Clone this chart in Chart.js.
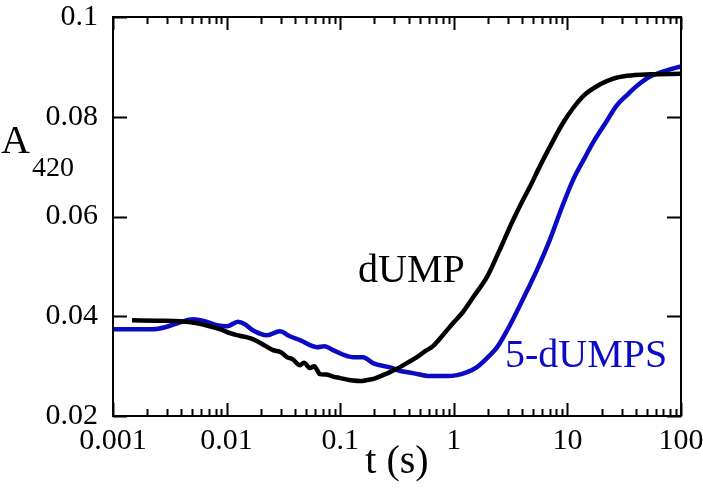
<!DOCTYPE html>
<html>
<head>
<meta charset="utf-8">
<script src="https://cdn.jsdelivr.net/npm/chart.js@4/dist/chart.umd.min.js"></script>
<style>
  html, body { margin: 0; padding: 0; background: #fff; }
  #wrap { width: 703px; height: 490px; }
</style>
</head>
<body>
<div id="wrap"><canvas id="myChart"></canvas></div>
<script>
// time axis (s) and absorbance at 420 nm
var tDump = [0.00147, 0.0025, 0.0039, 0.0055, 0.0071, 0.009, 0.0107, 0.013, 0.0161, 0.02,
    0.0256, 0.03, 0.034, 0.038, 0.0443, 0.048, 0.0542, 0.059, 0.0664, 0.075,
    0.0865, 0.1, 0.115, 0.13, 0.15, 0.172, 0.2, 0.238, 0.28, 0.336,
    0.4, 0.474, 0.56, 0.656, 0.8, 1.0, 1.2, 1.5, 1.96, 2.5,
    3.25, 4.0, 4.69, 5.7, 7.03, 9.0, 11.2, 14, 19.4, 25,
    33.5, 53.3, 100];
var aDump = [0.0392, 0.0391, 0.0390, 0.0386, 0.0380, 0.0373, 0.0366, 0.0361, 0.0356, 0.0346,
    0.0332, 0.0328, 0.0318, 0.0314, 0.0302, 0.0307, 0.0296, 0.0300, 0.0284, 0.0283,
    0.0279, 0.0276, 0.0273, 0.0271, 0.0270, 0.0272, 0.0275, 0.0282, 0.0289, 0.0298,
    0.0308, 0.0318, 0.0330, 0.0340, 0.0362, 0.0388, 0.0408, 0.0440, 0.0479, 0.0530,
    0.0588, 0.0630, 0.0660, 0.0700, 0.0740, 0.0785, 0.0817, 0.0843, 0.0865, 0.0876,
    0.0882, 0.0885, 0.0886];

var tDumps = [0.001, 0.00225, 0.00287, 0.0039, 0.00506, 0.0064, 0.00822, 0.0101, 0.0126, 0.0145,
    0.017, 0.0227, 0.0294, 0.036, 0.0443, 0.0624, 0.073, 0.0865, 0.13, 0.159,
    0.194, 0.29, 0.316, 0.437, 0.617, 0.871, 1.07, 1.31, 1.6, 2.0,
    2.41, 3.0, 3.6, 4.5, 5.5, 7.0, 9.0, 11.2, 14, 17,
    22, 27, 34, 41, 53, 75, 100];
var aDumps = [0.0374, 0.0374, 0.0378, 0.0388, 0.0394, 0.0390, 0.0382, 0.0380, 0.0389, 0.0384,
    0.0372, 0.0362, 0.0370, 0.0360, 0.0352, 0.0338, 0.0340, 0.0332, 0.0318, 0.0318,
    0.0306, 0.0296, 0.0292, 0.0286, 0.0280, 0.0280, 0.0282, 0.0288, 0.0298, 0.0318,
    0.0338, 0.0375, 0.0410, 0.0455, 0.0497, 0.0553, 0.0620, 0.0673, 0.0715, 0.0750,
    0.0790, 0.0822, 0.0845, 0.0862, 0.0880, 0.0893, 0.0901];

var xTicks = [0.001, 0.01, 0.1, 1, 10, 100];
var yTicks = [0.02, 0.04, 0.06, 0.08, 0.1];

var serif = "'Liberation Serif', 'Times New Roman', serif";
var blue = '#0b0bc4';

function pts(xs, ys) {
    return xs.map(function (v, i) { return { x: v, y: ys[i] }; });
}

// box, inward ticks and the text labels
var frame = {
    id: 'frame',
    afterDraw: function (chart) {
        var c = chart.ctx, a = chart.chartArea;
        var sx = chart.scales.x, sy = chart.scales.y;
        c.save();
        c.strokeStyle = '#000';
        c.lineWidth = 2;
        c.strokeRect(a.left, a.top, a.right - a.left, a.bottom - a.top);
        c.beginPath();
        for (var d = 0; d < xTicks.length; d++) {
            for (var k = 1; k <= 9; k++) {
                var v = xTicks[d] * k;
                if (v > 100.0001) break;
                var px = Math.round(sx.getPixelForValue(v)) + 0.5;
                var len = k === 1 ? 13 : 7;
                c.moveTo(px, a.bottom); c.lineTo(px, a.bottom - len);
                c.moveTo(px, a.top); c.lineTo(px, a.top + len);
            }
        }
        yTicks.forEach(function (v) {
            var py = Math.round(sy.getPixelForValue(v)) + 0.5;
            c.moveTo(a.left, py); c.lineTo(a.left + 14, py);
            c.moveTo(a.right, py); c.lineTo(a.right - 14, py);
        });
        c.stroke();

        c.fillStyle = '#000';
        c.textAlign = 'left';
        c.textBaseline = 'alphabetic';
        c.font = '40px ' + serif;
        c.fillText('A', 1, 153);
        c.font = '28px ' + serif;
        c.fillText('420', 32, 176);

        c.font = '40px ' + serif;
        c.fillText('dUMP', 358, 282);
        c.fillStyle = blue;
        c.fillText('5-dUMPS', 505, 367);
        c.restore();
    }
};

var ctx = document.getElementById('myChart');
var chart = new Chart(ctx, {
    type: 'line',
    data: {
        datasets: [{
            label: 'dUMP',
            data: pts(tDump, aDump),
            borderColor: '#000',
            borderWidth: 4.5,
            pointRadius: 0,
            cubicInterpolationMode: 'monotone'
        }, {
            label: '5-dUMPS',
            data: pts(tDumps, aDumps),
            borderColor: blue,
            borderWidth: 4.5,
            pointRadius: 0,
            cubicInterpolationMode: 'monotone'
        }]
    },
    plugins: [frame],
    options: {
        responsive: true,
        maintainAspectRatio: false,
        animation: false,
        layout: { padding: { top: 17, right: 22, left: 0, bottom: 0 } },
        plugins: {
            legend: { display: false },
            tooltip: { enabled: false }
        },
        scales: {
            x: {
                type: 'logarithmic',
                min: 0.001,
                max: 100,
                afterBuildTicks: function (s) {
                    s.ticks = xTicks.map(function (v) { return { value: v }; });
                },
                afterFit: function (s) {
                    s.height = 74;
                    s.paddingLeft = 0; s.paddingRight = 0;
                },
                grid: { display: false, drawTicks: false },
                border: { display: false },
                ticks: {
                    autoSkip: false,
                    maxRotation: 0,
                    padding: 7,
                    color: '#000',
                    font: { family: serif, size: 30 },
                    callback: function (v) { return String(v); }
                },
                title: {
                    display: true,
                    text: 't (s)',
                    color: '#000',
                    font: { family: serif, size: 40 },
                    padding: { top: 0, bottom: 4 }
                }
            },
            y: {
                min: 0.02,
                max: 0.1,
                afterBuildTicks: function (s) {
                    s.ticks = yTicks.map(function (v) { return { value: v }; });
                },
                afterFit: function (s) {
                    s.width = 113;
                    s.paddingTop = 0; s.paddingBottom = 0;
                },
                grid: { display: false, drawTicks: false },
                border: { display: false },
                ticks: {
                    padding: 15,
                    color: '#000',
                    font: { family: serif, size: 30 },
                    callback: function (v) { return String(+v.toFixed(2)); }
                }
            }
        }
    }
});
</script>
</body>
</html>
